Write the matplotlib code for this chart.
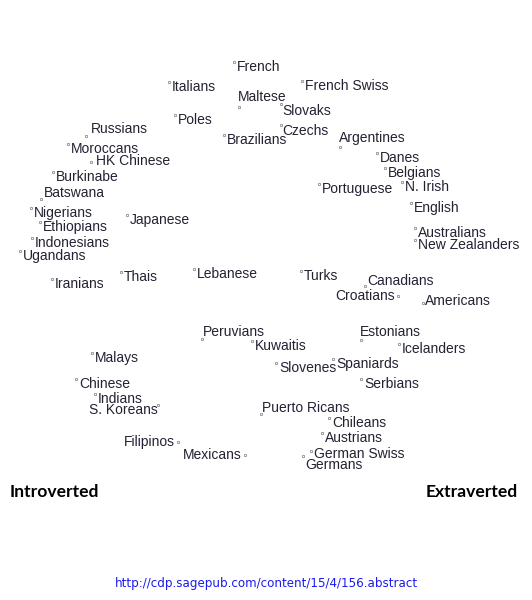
import matplotlib.pyplot as plt

# Point positions (image pixel space: x to the right, y downward)
countries = [
    "French", "Italians", "Maltese", "French Swiss", "Slovaks", "Czechs",
    "Brazilians", "Poles", "Argentines", "Danes", "Belgians", "Portuguese",
    "N. Irish", "English", "Australians", "New Zealanders", "Russians",
    "Moroccans", "HK Chinese", "Burkinabe", "Batswana", "Nigerians",
    "Ethiopians", "Indonesians", "Ugandans", "Japanese", "Iranians", "Thais",
    "Lebanese", "Turks", "Canadians", "Croatians", "Americans", "Peruvians",
    "Kuwaitis", "Estonians", "Icelanders", "Slovenes", "Spaniards", "Serbians",
    "Malays", "Chinese", "Indians", "S. Koreans", "Puerto Ricans", "Chileans",
    "Austrians", "Filipinos", "Mexicans", "German Swiss", "Germans",
]
x = [234, 169, 239, 302, 281, 281, 224, 175, 340, 377, 385, 319, 402, 411,
     415, 415, 86, 68, 91, 53, 41, 31, 40, 32, 20, 127, 52, 121, 194, 301,
     365, 398, 423, 202, 252, 361, 399, 276, 333, 361, 92, 76, 95, 158, 261,
     329, 322, 178, 245, 311, 303]
y = [62, 82, 107, 81, 104, 125, 135, 115, 147, 153, 168, 184, 182, 203, 228,
     240, 136, 144, 162, 172, 199, 208, 222, 238, 251, 215, 279, 272, 269,
     271, 286, 296, 303, 339, 341, 340, 344, 363, 359, 379, 353, 379, 394,
     405, 414, 418, 433, 442, 455, 451, 456]

# label placement: (dx, dy, ha) in pixels relative to the point
default_off = (3, 5, "left")
label_off = {
    "Maltese": (-1, -10, "left"),
    "Argentines": (-1, -9, "left"),
    "Russians": (5, -7, "left"),
    "HK Chinese": (5, -1, "left"),
    "Batswana": (3, -6, "left"),
    "Canadians": (2, -5, "left"),
    "Croatians": (-3, 0, "right"),
    "Americans": (2, -2, "left"),
    "Peruvians": (1, -7, "left"),
    "Estonians": (-1, -8, "left"),
    "S. Koreans": (0, 5, "right"),
    "Puerto Ricans": (1, -6, "left"),
    "Filipinos": (-3, 0, "right"),
    "Mexicans": (-3, 0, "right"),
    "German Swiss": (3, 3, "left"),
    "Germans": (2, 9, "left"),
    "Slovaks": (1, 7, "left"),
    "Czechs": (1, 6, "left"),
}

W, H = 532, 600
fig = plt.figure(figsize=(W / 100, H / 100), dpi=100)
ax = fig.add_axes([0, 0, 1, 1])
ax.set_xlim(0, W)
ax.set_ylim(H, 0)
ax.axis("off")

ax.scatter(x, y, s=3, facecolors="white", edgecolors="#777777", linewidths=0.5, zorder=2)

for name, px, py in zip(countries, x, y):
    dx, dy, ha = label_off.get(name, default_off)
    ax.text(px + dx, py + dy, name, ha=ha, va="center", fontsize=10,
            family="Liberation Sans", color="#222233")

ax.text(10, 492, "Introverted", ha="left", va="center", fontsize=12.6,
        fontweight="bold", family="Lato", color="black")
ax.text(518, 492, "Extraverted", ha="right", va="center", fontsize=12.6,
        fontweight="bold", family="Lato", color="black")
ax.text(266, 584, "http://cdp.sagepub.com/content/15/4/156.abstract", ha="center",
        va="center", fontsize=8.6, family="DejaVu Sans", color="#1a1aee")

fig.savefig("out.png", dpi=100)
